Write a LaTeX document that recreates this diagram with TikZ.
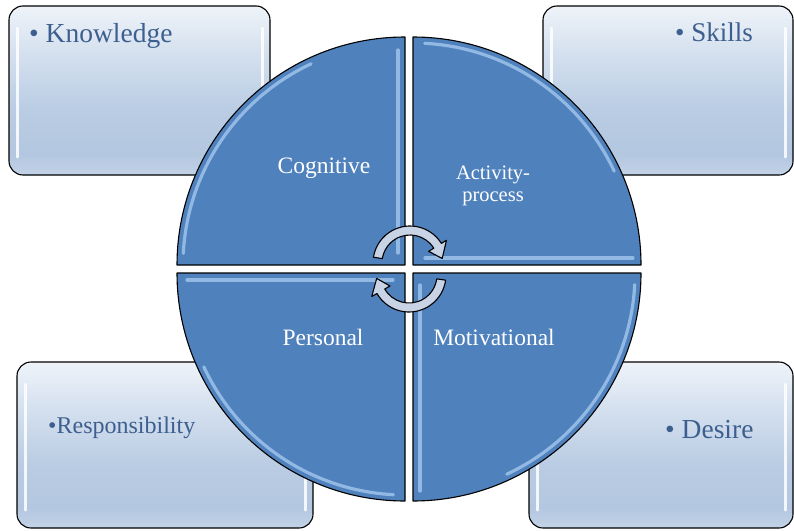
\documentclass[tikz,border=0pt]{standalone}
\usepackage{fontspec}
\setmainfont{Liberation Serif}
\usetikzlibrary{calc}

\definecolor{quad}{HTML}{4F81BD}
\definecolor{quadhi}{HTML}{A9CBF2}
\definecolor{boxtext}{HTML}{3D5F8F}
\definecolor{arrowfill}{HTML}{C8D4E6}
\definecolor{sbA}{HTML}{C3D3E7}
\definecolor{sbB}{HTML}{B3C7E0}
\definecolor{sbC}{HTML}{B9CCE3}
\definecolor{sbD}{HTML}{D3DFEE}
\definecolor{sbE}{HTML}{EEF3F9}

% soft vertical gradient of the corner boxes
\pgfdeclareverticalshading{boxshade}{100bp}{color(0bp)=(sbA); color(25bp)=(sbA); color(31bp)=(sbB); color(44bp)=(sbC); color(60bp)=(sbD); color(75bp)=(sbE); color(100bp)=(sbE)}

\begin{document}
\begin{tikzpicture}[x=1pt,y=-1pt,
  infobox/.style={draw=black, line width=1.1pt, rounded corners=14pt, shading=boxshade, inner sep=0pt, outer sep=0pt},
  boxshine/.style={draw=white, line width=3pt, line cap=round, opacity=0.85},
  boxlabel/.style={text=boxtext, inner sep=0pt},
  quadrant/.style={draw=black, line width=1.1pt, fill=quad, line join=round},
  quadshine/.style={draw=quadhi, line width=3.2pt, line cap=round, opacity=0.75},
  quadlabel/.style={text=white, inner sep=0pt},
  cycle arrow/.style={draw=black, line width=1.1pt, fill=arrowfill, line join=round}]
\useasboundingbox (0,0) rectangle (794,530);

% corner boxes
\node[infobox, minimum width=261pt, minimum height=169pt] (kbox) at (139.5,90.5) {};
\node[infobox, minimum width=250pt, minimum height=169pt] (sbox) at (668,90.5) {};
\node[infobox, minimum width=296pt, minimum height=166pt] (rbox) at (165,445) {};
\node[infobox, minimum width=264pt, minimum height=166pt] (dbox) at (661,445) {};

\foreach \b in {kbox,sbox,rbox,dbox}{
  \draw[boxshine] ($(\b.north west)+(8,22)$) -- ($(\b.south west)+(8,-18)$);
  \draw[boxshine] ($(\b.north east)+(-8,22)$) -- ($(\b.south east)+(-8,-18)$);
}

\node[boxlabel, anchor=base west, font=\fontsize{27.5}{32}\selectfont] (knowledge) at (29,42) {• Knowledge};
\node[boxlabel, anchor=base west, font=\fontsize{27}{31}\selectfont] (skills) at (675,41) {• Skills};
\node[boxlabel, anchor=base west, font=\fontsize{24}{28}\selectfont] (responsibility) at (48,433) {•Responsibility};
\node[boxlabel, anchor=base west, font=\fontsize{27.5}{32}\selectfont] (desire) at (665,438) {• Desire};

% four quadrants of the disc
\coordinate (ctl) at (405,265);
\coordinate (ctr) at (413,265);
\coordinate (cbr) at (413,273);
\coordinate (cbl) at (405,273);

\draw[quadrant] (ctl) -- ($(ctl)+(180:228)$) arc[start angle=180, end angle=270, radius=228] -- cycle;
\draw[quadrant] (ctr) -- ($(ctr)+(270:228)$) arc[start angle=270, end angle=360, radius=228] -- cycle;
\draw[quadrant] (cbr) -- ($(cbr)+(0:228)$) arc[start angle=0, end angle=90, radius=228] -- cycle;
\draw[quadrant] (cbl) -- ($(cbl)+(90:228)$) arc[start angle=90, end angle=180, radius=228] -- cycle;

% bevel highlights
\draw[quadshine] ($(ctl)+(183:222)$) arc[start angle=183, end angle=245, radius=222];
\draw[quadshine] ($(ctl)+(-7,-215)$) -- ($(ctl)+(-7,-12)$);
\draw[quadshine] ($(ctr)+(273:222)$) arc[start angle=273, end angle=335, radius=222];
\draw[quadshine] ($(ctr)+(12,-7)$) -- ($(ctr)+(220,-7)$);
\draw[quadshine] ($(cbr)+(3:222)$) arc[start angle=3, end angle=65, radius=222];
\draw[quadshine] ($(cbr)+(7,12)$) -- ($(cbr)+(7,218)$);
\draw[quadshine] ($(cbl)+(93:222)$) arc[start angle=93, end angle=155, radius=222];
\draw[quadshine] ($(cbl)+(-12,7)$) -- ($(cbl)+(-218,7)$);

\node[quadlabel, anchor=base, font=\fontsize{23.5}{27}\selectfont] (cognitive) at (324,173) {Cognitive};
\node[quadlabel, align=center, font=\fontsize{20.5}{22}\selectfont] (activity) at (493,186) {Activity-\\process};
\node[quadlabel, anchor=base, font=\fontsize{23.5}{27}\selectfont] (personal) at (323,345) {Personal};
\node[quadlabel, anchor=base, font=\fontsize{23.5}{27}\selectfont] (motivational) at (494,345) {Motivational};

% circular arrows in the middle
\coordinate (ua) at (410,263);
\coordinate (la) at (409,275);
\draw[cycle arrow] ($(ua)+(189:37)$) arc[start angle=189, end angle=328, radius=37]
  -- ($(ua)+(328:43)$) -- ($(ua)+(352:32.5)$) -- ($(ua)+(328:22)$) -- ($(ua)+(328:28)$)
  arc[start angle=328, end angle=189, radius=28] -- cycle;
\draw[cycle arrow] ($(la)+(8:37)$) arc[start angle=8, end angle=150, radius=37]
  -- ($(la)+(150:43)$) -- ($(la)+(174:32.5)$) -- ($(la)+(150:22)$) -- ($(la)+(150:28)$)
  arc[start angle=150, end angle=8, radius=28] -- cycle;
\end{tikzpicture}
\end{document}
